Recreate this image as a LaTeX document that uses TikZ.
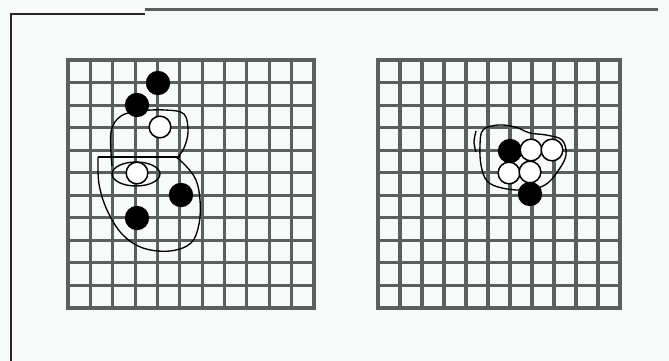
\documentclass[tikz,border=0pt]{standalone}
\usepackage{tikz}
\definecolor{paper}{RGB}{248,249,249}
\definecolor{rule}{RGB}{92,95,95}
\tikzset{
	gridline/.style={
		draw=rule,
		line width=0.95mm,
		line cap=rect
	},
	blackstone/.style={
		circle,
		fill=black,
		inner sep=0pt,
		minimum size=7.3mm
	},
	whitestone/.style={
		circle,
		draw=black,
		fill=white,
		line width=0.45mm,
		inner sep=0pt,
		minimum size=6.5mm
	},
	outline/.style={
		draw=black,
		line width=0.4mm
	},
	frameline/.style={
		draw=black!85,
		line width=0.45mm
	},
	topline/.style={
		draw=rule,
		line width=0.9mm
	}
}

\begin{document}
\begin{tikzpicture}[x=0.3mm, y=-0.3mm]

		% page
		\useasboundingbox (0,0) rectangle (669,361);
		\fill [paper] (0,0) rectangle (669,361);
		\draw [frameline] (11,361) -- (11,14) -- (145,14);
		\draw [topline]   (145,9) -- (658,9);

		% grids
		\foreach \i in {0,...,11} {
			\draw [gridline] ({68+\i*22.364},60) -- ({68+\i*22.364},308);
			\draw [gridline] (68,{60+\i*22.545}) -- (314,{60+\i*22.545});
			\draw [gridline] ({378+\i*22},60) -- ({378+\i*22},308);
			\draw [gridline] (378,{60+\i*22.545}) -- (620,{60+\i*22.545});
		}

		% left board: groups
		\draw [outline] (98,157) -- (180,157);
		\draw [outline] plot [smooth, tension=0.6] coordinates
			{(112,166) (111,132) (121,116) (140,111) (165,110) (184,114) (188,132) (184,148) (178,157)};
		\draw [outline] plot [smooth, tension=0.6] coordinates
			{(176,157) (186,166) (196,180) (200,200) (199,224) (191,243) (170,251) (143,248) (122,234) (107,210) (99,184) (98,157)};
		\draw [outline] (136,174) ellipse [x radius=24, y radius=12];

		% right board: group
		\draw [outline] plot [smooth cycle, tension=0.6] coordinates
			{(483,130) (498,125) (515,127) (530,133) (546,135) (562,140) (566,155) (558,171) (545,185) (525,190) (502,188) (487,181) (481,165) (480,145)};
		\draw [outline] plot [smooth, tension=0.6] coordinates
			{(476,131) (474,142) (476,152)};

		% stones
		\node (lb1) [blackstone] at (158,83)  {};
		\node (lb2) [blackstone] at (137,105) {};
		\node (lw1) [whitestone] at (160,127) {};
		\node (lw2) [whitestone] at (137,173) {};
		\node (lb3) [blackstone] at (181,195) {};
		\node (lb4) [blackstone] at (137,218) {};

		\node (rb1) [blackstone] at (510,151) {};
		\node (rw1) [whitestone] at (531,150) {};
		\node (rw2) [whitestone] at (552,150) {};
		\node (rw3) [whitestone] at (509,173) {};
		\node (rw4) [whitestone] at (530,172) {};
		\node (rb2) [blackstone] at (530,194) {};

	\end{tikzpicture}
\end{document}
